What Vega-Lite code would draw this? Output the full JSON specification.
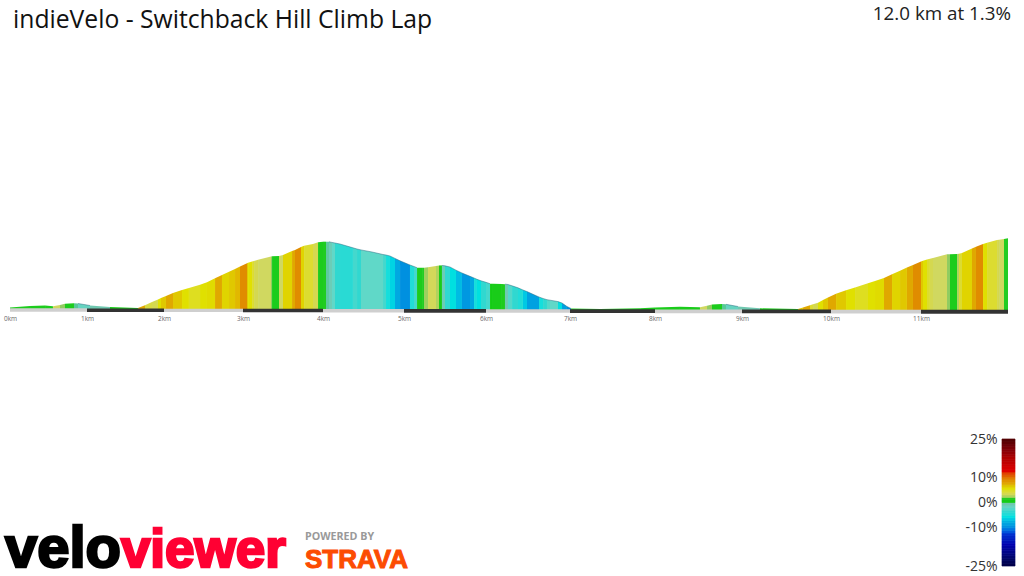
{"$schema":"https://vega.github.io/schema/vega-lite/v6.json","width":1024,"height":576,"padding":0,"autosize":{"type":"fit","contains":"padding"},"background":"#ffffff","config":{"view":{"stroke":null}},
"resolve":{"scale":{"x":"independent","y":"independent","color":"independent"},"axis":{"x":"independent","y":"independent"}},
"layer":[
{"layer":[
{"data":{"name":"profile","values":[
{"seg":1,"km":[0,0.26],"elev":[3.3,6.6],"grade":0.5},{"seg":2,"km":[0.26,0.455],"elev":[6.6,7.9],"grade":0.5},{"seg":3,"km":[0.455,0.558],"elev":[7.9,5.9],"grade":0.5},{"seg":4,"km":[0.558,0.649],"elev":[5.9,8.8],"grade":2.5},{"seg":5,"km":[0.649,0.714],"elev":[8.8,11.7],"grade":1.5},{"seg":6,"km":[0.714,0.831],"elev":[11.7,12.5],"grade":0.5},{"seg":7,"km":[0.831,0.883],"elev":[12.5,12.1],"grade":-0.7},{"seg":8,"km":[0.883,1.039],"elev":[12.1,7.7],"grade":-2},{"seg":9,"km":[1.039,1.299],"elev":[7.7,4.6],"grade":-1},{"seg":10,"km":[1.299,1.662],"elev":[4.6,2.2],"grade":0.3},
{"seg":11,"km":[1.662,1.753],"elev":[2.2,8.1],"grade":7},{"seg":12,"km":[1.753,1.844],"elev":[8.1,15.4],"grade":3.5},{"seg":13,"km":[1.844,1.922],"elev":[15.4,20.9],"grade":3},{"seg":14,"km":[1.922,1.961],"elev":[20.9,24.2],"grade":5},{"seg":15,"km":[1.961,2.025],"elev":[24.2,28.6],"grade":6},{"seg":16,"km":[2.025,2.114],"elev":[28.6,35.2],"grade":7},{"seg":17,"km":[2.114,2.228],"elev":[35.2,41.8],"grade":6},{"seg":18,"km":[2.228,2.316],"elev":[41.8,46.2],"grade":5},{"seg":19,"km":[2.316,2.456],"elev":[46.2,53.5],"grade":4.5},{"seg":20,"km":[2.456,2.544],"elev":[53.5,58.7],"grade":5},
{"seg":21,"km":[2.544,2.646],"elev":[58.7,67.8],"grade":5.2},{"seg":22,"km":[2.646,2.734],"elev":[67.8,74.8],"grade":7},{"seg":23,"km":[2.734,2.823],"elev":[74.8,81.8],"grade":5.5},{"seg":24,"km":[2.823,2.899],"elev":[81.8,88],"grade":6},{"seg":25,"km":[2.899,2.962],"elev":[88,93.3],"grade":6.5},{"seg":26,"km":[2.962,3.05],"elev":[93.3,100.8],"grade":8.5},{"seg":27,"km":[3.05,3.063],"elev":[100.8,101.9],"grade":6},{"seg":28,"km":[3.063,3.113],"elev":[101.9,104.5],"grade":5},{"seg":29,"km":[3.113,3.138],"elev":[104.5,105.6],"grade":4},{"seg":30,"km":[3.138,3.188],"elev":[105.6,108.5],"grade":3},
{"seg":31,"km":[3.188,3.35],"elev":[108.5,115.7],"grade":2.5},{"seg":32,"km":[3.35,3.363],"elev":[115.7,115.9],"grade":1.5},{"seg":33,"km":[3.363,3.45],"elev":[115.9,116.6],"grade":0.5},{"seg":34,"km":[3.45,3.5],"elev":[116.6,118.8],"grade":2.5},{"seg":35,"km":[3.5,3.613],"elev":[118.8,127.6],"grade":5.5},{"seg":36,"km":[3.613,3.65],"elev":[127.6,129.8],"grade":7},{"seg":37,"km":[3.65,3.725],"elev":[129.8,136.4],"grade":8.5},{"seg":38,"km":[3.725,3.763],"elev":[136.4,139.3],"grade":5.5},{"seg":39,"km":[3.763,3.875],"elev":[139.3,143],"grade":4},{"seg":40,"km":[3.875,3.938],"elev":[143,146.7],"grade":3},
{"seg":41,"km":[3.938,4],"elev":[146.7,148.1],"grade":0.5},{"seg":42,"km":[4,4.037],"elev":[148.1,148.1],"grade":0.8},{"seg":43,"km":[4.037,4.074],"elev":[148.1,147.8],"grade":-0.8},{"seg":44,"km":[4.074,4.111],"elev":[147.8,146.5],"grade":-1.5},{"seg":45,"km":[4.111,4.148],"elev":[146.5,145.2],"grade":-2.5},{"seg":46,"km":[4.148,4.21],"elev":[145.2,143],"grade":-4},{"seg":47,"km":[4.21,4.37],"elev":[143,134.6],"grade":-4.5},{"seg":48,"km":[4.37,4.42],"elev":[134.6,132],"grade":-3.5},{"seg":49,"km":[4.42,4.469],"elev":[132,130],"grade":-4},{"seg":50,"km":[4.469,4.605],"elev":[130,125.4],"grade":-2.5},
{"seg":51,"km":[4.605,4.741],"elev":[125.4,119.9],"grade":-2.5},{"seg":52,"km":[4.741,4.778],"elev":[119.9,118.8],"grade":-3.5},{"seg":53,"km":[4.778,4.827],"elev":[118.8,116.6],"grade":-5.5},{"seg":54,"km":[4.827,4.889],"elev":[116.6,111.3],"grade":-6.5},{"seg":55,"km":[4.889,4.951],"elev":[111.3,106],"grade":-8.5},{"seg":56,"km":[4.951,5.073],"elev":[106,96.8],"grade":-10},{"seg":57,"km":[5.073,5.122],"elev":[96.8,93.5],"grade":-5},{"seg":58,"km":[5.122,5.159],"elev":[93.5,90.9],"grade":-3.5},{"seg":59,"km":[5.159,5.22],"elev":[90.9,90.6],"grade":0.5},{"seg":60,"km":[5.22,5.244],"elev":[90.6,90.9],"grade":1},
{"seg":61,"km":[5.244,5.293],"elev":[90.9,91.7],"grade":1.7},{"seg":62,"km":[5.293,5.39],"elev":[91.7,94.6],"grade":2.7},{"seg":63,"km":[5.39,5.427],"elev":[94.6,95.9],"grade":2},{"seg":64,"km":[5.427,5.463],"elev":[95.9,95.9],"grade":0.3},{"seg":65,"km":[5.463,5.5],"elev":[95.9,95],"grade":-1.5},{"seg":66,"km":[5.5,5.561],"elev":[95,92.4],"grade":-4},{"seg":67,"km":[5.561,5.634],"elev":[92.4,85.4],"grade":-6},{"seg":68,"km":[5.634,5.707],"elev":[85.4,79.2],"grade":-7.5},{"seg":69,"km":[5.707,5.805],"elev":[79.2,71.9],"grade":-9.5},{"seg":70,"km":[5.805,5.854],"elev":[71.9,68.2],"grade":-8.5},
{"seg":71,"km":[5.854,5.89],"elev":[68.2,65.3],"grade":-5.5},{"seg":72,"km":[5.89,5.939],"elev":[65.3,62],"grade":-6},{"seg":73,"km":[5.939,6],"elev":[62,58.7],"grade":-4},{"seg":74,"km":[6,6.048],"elev":[58.7,55.7],"grade":-3.5},{"seg":75,"km":[6.048,6.083],"elev":[55.7,55.4],"grade":0},{"seg":76,"km":[6.083,6.19],"elev":[55.4,54.8],"grade":0.3},{"seg":77,"km":[6.19,6.226],"elev":[54.8,54.6],"grade":0.7},{"seg":78,"km":[6.226,6.262],"elev":[54.6,53.9],"grade":-1.2},{"seg":79,"km":[6.262,6.31],"elev":[53.9,51],"grade":-3},{"seg":80,"km":[6.31,6.381],"elev":[51,46.6],"grade":-4},
{"seg":81,"km":[6.381,6.44],"elev":[46.6,41.8],"grade":-5},{"seg":82,"km":[6.44,6.488],"elev":[41.8,38.3],"grade":-7},{"seg":83,"km":[6.488,6.631],"elev":[38.3,26.4],"grade":-9},{"seg":84,"km":[6.631,6.679],"elev":[26.4,23.1],"grade":-5.5},{"seg":85,"km":[6.679,6.726],"elev":[23.1,20.5],"grade":-4},{"seg":86,"km":[6.726,6.762],"elev":[20.5,19.4],"grade":-3},{"seg":87,"km":[6.762,6.857],"elev":[19.4,16.3],"grade":-2.5},{"seg":88,"km":[6.857,6.905],"elev":[16.3,13.2],"grade":-6},{"seg":89,"km":[6.905,6.964],"elev":[13.2,5.5],"grade":-9},{"seg":90,"km":[6.964,7.012],"elev":[5.5,1.1],"grade":-10},
{"seg":91,"km":[7.012,7.353],"elev":[1.1,0],"grade":0.4},{"seg":92,"km":[7.353,7.824],"elev":[0,1.5],"grade":0.4},{"seg":93,"km":[7.824,8],"elev":[1.5,3.1],"grade":0.4},{"seg":94,"km":[8,8.287],"elev":[3.1,5.1],"grade":0.4},{"seg":95,"km":[8.287,8.517],"elev":[5.1,3.7],"grade":0.4},{"seg":96,"km":[8.517,8.598],"elev":[3.7,7.3],"grade":2.5},{"seg":97,"km":[8.598,8.655],"elev":[7.3,9.9],"grade":1.5},{"seg":98,"km":[8.655,8.77],"elev":[9.9,11],"grade":0.5},{"seg":99,"km":[8.77,8.816],"elev":[11,10.3],"grade":-0.7},{"seg":100,"km":[8.816,8.954],"elev":[10.3,5.5],"grade":-2},
{"seg":101,"km":[8.954,9.202],"elev":[5.5,1.5],"grade":-1},{"seg":102,"km":[9.202,9.629],"elev":[1.5,0],"grade":0.3},{"seg":103,"km":[9.629,9.685],"elev":[0,3.3],"grade":6},{"seg":104,"km":[9.685,9.764],"elev":[3.3,8.1],"grade":7},{"seg":105,"km":[9.764,9.798],"elev":[8.1,10.3],"grade":4},{"seg":106,"km":[9.798,9.854],"elev":[10.3,13.9],"grade":3},{"seg":107,"km":[9.854,9.91],"elev":[13.9,19.8],"grade":5},{"seg":108,"km":[9.91,9.966],"elev":[19.8,25.3],"grade":6},{"seg":109,"km":[9.966,10.056],"elev":[25.3,33.7],"grade":7},{"seg":110,"km":[10.056,10.167],"elev":[33.7,41.1],"grade":6},
{"seg":111,"km":[10.167,10.267],"elev":[41.1,47.5],"grade":5},{"seg":112,"km":[10.267,10.411],"elev":[47.5,56.8],"grade":4.5},{"seg":113,"km":[10.411,10.489],"elev":[56.8,61.6],"grade":5},{"seg":114,"km":[10.489,10.589],"elev":[61.6,68.2],"grade":5.2},{"seg":115,"km":[10.589,10.678],"elev":[68.2,76.3],"grade":7},{"seg":116,"km":[10.678,10.767],"elev":[76.3,84.3],"grade":5.5},{"seg":117,"km":[10.767,10.844],"elev":[84.3,91.3],"grade":6},{"seg":118,"km":[10.844,10.911],"elev":[91.3,96.8],"grade":7},{"seg":119,"km":[10.911,11],"elev":[96.8,104.7],"grade":8.5},{"seg":120,"km":[11,11.023],"elev":[104.7,106],"grade":6},
{"seg":121,"km":[11.023,11.069],"elev":[106,108.7],"grade":5},{"seg":122,"km":[11.069,11.103],"elev":[108.7,110.4],"grade":4},{"seg":123,"km":[11.103,11.138],"elev":[110.4,112.2],"grade":3},{"seg":124,"km":[11.138,11.299],"elev":[112.2,120.3],"grade":2.5},{"seg":125,"km":[11.299,11.333],"elev":[120.3,120.6],"grade":1.5},{"seg":126,"km":[11.333,11.414],"elev":[120.6,121.2],"grade":0.5},{"seg":127,"km":[11.414,11.437],"elev":[121.2,121.4],"grade":2},{"seg":128,"km":[11.437,11.471],"elev":[121.4,123.2],"grade":4},{"seg":129,"km":[11.471,11.586],"elev":[123.2,133.3],"grade":5.5},{"seg":130,"km":[11.586,11.632],"elev":[133.3,136.8],"grade":7},
{"seg":131,"km":[11.632,11.713],"elev":[136.8,143],"grade":8.5},{"seg":132,"km":[11.713,11.759],"elev":[143,145.6],"grade":5},{"seg":133,"km":[11.759,11.874],"elev":[145.6,151.8],"grade":4},{"seg":134,"km":[11.874,11.897],"elev":[151.8,152.2],"grade":3},{"seg":135,"km":[11.897,11.954],"elev":[152.2,154],"grade":2.5},{"seg":136,"km":[11.954,12],"elev":[154,155.5],"grade":1}
]},
"transform":[{"flatten":["km","elev"]}],
"mark":{"type":"area","interpolate":"linear"},
"encoding":{
"x":{"field":"km","type":"quantitative","scale":{"domain":[0,1,2,3,4,5,6,7,8,9,10,11,12],"range":[10,87,164,243,323,404,486,570,655,742,831,921,1008]},
"axis":{"values":[0,1,2,3,4,5,6,7,8,9,10,11],"labelExpr":"datum.value + 'km'","orient":"bottom","offset":-259,"domain":false,"ticks":false,"grid":false,"title":null,"labelPadding":1,"labelFlush":false,"labelFontSize":6.5,"labelColor":"#666666","labelFont":"Open Sans"}},
"y":{"field":"elev","type":"quantitative","scale":{"domain":[-587.4,679.8],"range":[576,0],"nice":false,"zero":false},"axis":null},
"y2":{"datum":-4},
"detail":{"field":"seg","type":"nominal"},
"color":{"field":"grade","type":"quantitative","legend":null,"scale":{"domain":[-25,-17,-13,-10,-8,-6,-4,-2.5,-1,-0.5,0,1,1.5,2.5,3,4,5,6,7,8.5,10,12,17,25],"range":["#00004a","#0000b0","#0030d0","#0090e0","#00b0e0","#00e0e0","#30d8d0","#60d8c8","#70c8b0","#50c880","#14cc14","#22cc22","#90cc60","#d0d860","#d4d850","#dcdc30","#e0e000","#e0c800","#e0a800","#e08c00","#e06000","#e00000","#b00000","#480000"]}}
}},
{"data":{"name":"profile"},
"transform":[{"filter":"datum.grade < -1"},{"flatten":["km","elev"]}],
"mark":{"type":"line","color":"#2a6a80","strokeWidth":0.7,"opacity":0.7},
"encoding":{"x":{"field":"km","type":"quantitative"},"y":{"field":"elev","type":"quantitative"},"detail":{"field":"seg","type":"nominal"}}},
{"data":{"name":"strip","values":[
{"from":0,"to":1,"shade":"light","top":1.4,"bottom":-6.1},{"from":1,"to":2,"shade":"dark","top":1.1,"bottom":-6.5},{"from":2,"to":3,"shade":"light","top":0.8,"bottom":-6.8},{"from":3,"to":4,"shade":"dark","top":0.5,"bottom":-7.2},{"from":4,"to":5,"shade":"light","top":0.2,"bottom":-7.6},{"from":5,"to":6,"shade":"dark","top":-0.1,"bottom":-8},{"from":6,"to":7,"shade":"light","top":-0.4,"bottom":-8.3},{"from":7,"to":8,"shade":"dark","top":-0.7,"bottom":-8.7},{"from":8,"to":9,"shade":"light","top":-1,"bottom":-9.1},{"from":9,"to":10,"shade":"dark","top":-1.3,"bottom":-9.5},{"from":10,"to":11,"shade":"light","top":-1.6,"bottom":-9.8},{"from":11,"to":12,"shade":"dark","top":-1.9,"bottom":-10.2}
]},
"transform":[{"filter":"datum.shade === 'light'"}],
"mark":{"type":"rect","color":"#cfcfcf"},
"encoding":{"x":{"field":"from","type":"quantitative"},"x2":{"field":"to"},"y":{"field":"top","type":"quantitative"},"y2":{"field":"bottom"}}},
{"data":{"name":"strip"},
"transform":[{"filter":"datum.shade === 'dark'"}],
"mark":{"type":"rect","color":"#333333"},
"encoding":{"x":{"field":"from","type":"quantitative"},"x2":{"field":"to"},"y":{"field":"top","type":"quantitative"},"y2":{"field":"bottom"}}},
{"data":{"values":[{}]},"mark":{"type":"text","text":"indieVelo - Switchback Hill Climb Lap","font":"Open Sans","fontSize":24.7,"align":"left","baseline":"alphabetic","color":"#111111"},"encoding":{"x":{"datum":0.039,"type":"quantitative"},"y":{"datum":618,"type":"quantitative"}}},
{"data":{"values":[{}]},"mark":{"type":"text","text":"12.0 km at 1.3%","font":"Open Sans","fontSize":18.8,"align":"right","baseline":"alphabetic","color":"#222222"},"encoding":{"x":{"datum":12.034,"type":"quantitative"},"y":{"datum":636,"type":"quantitative"}}},
{"data":{"values":[{}]},"mark":{"type":"text","text":"velo","font":"Liberation Sans","fontWeight":"bold","fontSize":58,"align":"left","baseline":"alphabetic","color":"#000000","stroke":"#000000","strokeWidth":2.5},"encoding":{"x":{"datum":-0.065,"type":"quantitative"},"y":{"datum":-567,"type":"quantitative"}}},
{"data":{"values":[{}]},"mark":{"type":"text","text":"viewer","font":"Liberation Sans","fontWeight":"bold","fontSize":53,"align":"left","baseline":"alphabetic","color":"#ff0033","stroke":"#ff0033","strokeWidth":2.5},"encoding":{"x":{"datum":1.44,"type":"quantitative"},"y":{"datum":-567,"type":"quantitative"}}},
{"data":{"values":[{}]},"mark":{"type":"text","text":"POWERED BY","font":"Open Sans","fontWeight":"bold","fontSize":10.7,"align":"left","baseline":"alphabetic","color":"#999999"},"encoding":{"x":{"datum":3.775,"type":"quantitative"},"y":{"datum":-508,"type":"quantitative"}}},
{"data":{"values":[{}]},"mark":{"type":"text","text":"STRAVA","font":"Liberation Sans","fontWeight":"bold","fontSize":26,"align":"left","baseline":"alphabetic","color":"#fc4c02","stroke":"#fc4c02","strokeWidth":1},"encoding":{"x":{"datum":3.775,"type":"quantitative"},"y":{"datum":-570,"type":"quantitative"}}}
]},
{"data":{"values":[{"g":-25,"g2":-24},{"g":-24,"g2":-23},{"g":-23,"g2":-22},{"g":-22,"g2":-21},{"g":-21,"g2":-20},{"g":-20,"g2":-19},{"g":-19,"g2":-18},{"g":-18,"g2":-17},{"g":-17,"g2":-16},{"g":-16,"g2":-15},{"g":-15,"g2":-14},{"g":-14,"g2":-13},{"g":-13,"g2":-12},{"g":-12,"g2":-11},{"g":-11,"g2":-10},{"g":-10,"g2":-9},{"g":-9,"g2":-8},{"g":-8,"g2":-7},{"g":-7,"g2":-6},{"g":-6,"g2":-5},{"g":-5,"g2":-4},{"g":-4,"g2":-3},{"g":-3,"g2":-2},{"g":-2,"g2":-1},{"g":-1,"g2":0},{"g":0,"g2":1},{"g":1,"g2":2},{"g":2,"g2":3},{"g":3,"g2":4},{"g":4,"g2":5},{"g":5,"g2":6},{"g":6,"g2":7},{"g":7,"g2":8},{"g":8,"g2":9},{"g":9,"g2":10},{"g":10,"g2":11},{"g":11,"g2":12},{"g":12,"g2":13},{"g":13,"g2":14},{"g":14,"g2":15},{"g":15,"g2":16},{"g":16,"g2":17},{"g":17,"g2":18},{"g":18,"g2":19},{"g":19,"g2":20},{"g":20,"g2":21},{"g":21,"g2":22},{"g":22,"g2":23},{"g":23,"g2":24},{"g":24,"g2":25}]},
"mark":{"type":"rect","strokeWidth":0.7},
"encoding":{
"x":{"datum":0,"type":"quantitative","axis":null,"scale":{"domain":[0,1],"range":[1002,1015]}},
"x2":{"datum":1},
"y":{"field":"g","type":"quantitative","scale":{"domain":[-25,25],"range":[566,439],"nice":false,"zero":false},"axis":{"values":[25,10,0,-10,-25],"labelExpr":"datum.value + '%'","orient":"left","offset":-997,"domain":false,"ticks":false,"grid":false,"title":null,"labelPadding":0,"labelFontSize":14,"labelColor":"#333333","labelFont":"Open Sans"}},
"y2":{"field":"g2"},
"color":{"field":"g","type":"quantitative","legend":null,"scale":{"domain":[-25,-17,-13,-10,-8,-6,-4,-2.5,-1,-0.5,0,1,1.5,2.5,3,4,5,6,7,8.5,10,12,17,25],"range":["#00004a","#0000b0","#0030d0","#0090e0","#00b0e0","#00e0e0","#30d8d0","#60d8c8","#70c8b0","#50c880","#14cc14","#22cc22","#90cc60","#d0d860","#d4d850","#dcdc30","#e0e000","#e0c800","#e0a800","#e08c00","#e06000","#e00000","#b00000","#480000"]}},
"stroke":{"field":"g","type":"quantitative","legend":null,"scale":{"domain":[-25,-17,-13,-10,-8,-6,-4,-2.5,-1,-0.5,0,1,1.5,2.5,3,4,5,6,7,8.5,10,12,17,25],"range":["#00004a","#0000b0","#0030d0","#0090e0","#00b0e0","#00e0e0","#30d8d0","#60d8c8","#70c8b0","#50c880","#14cc14","#22cc22","#90cc60","#d0d860","#d4d850","#dcdc30","#e0e000","#e0c800","#e0a800","#e08c00","#e06000","#e00000","#b00000","#480000"]}}
}}
]}
